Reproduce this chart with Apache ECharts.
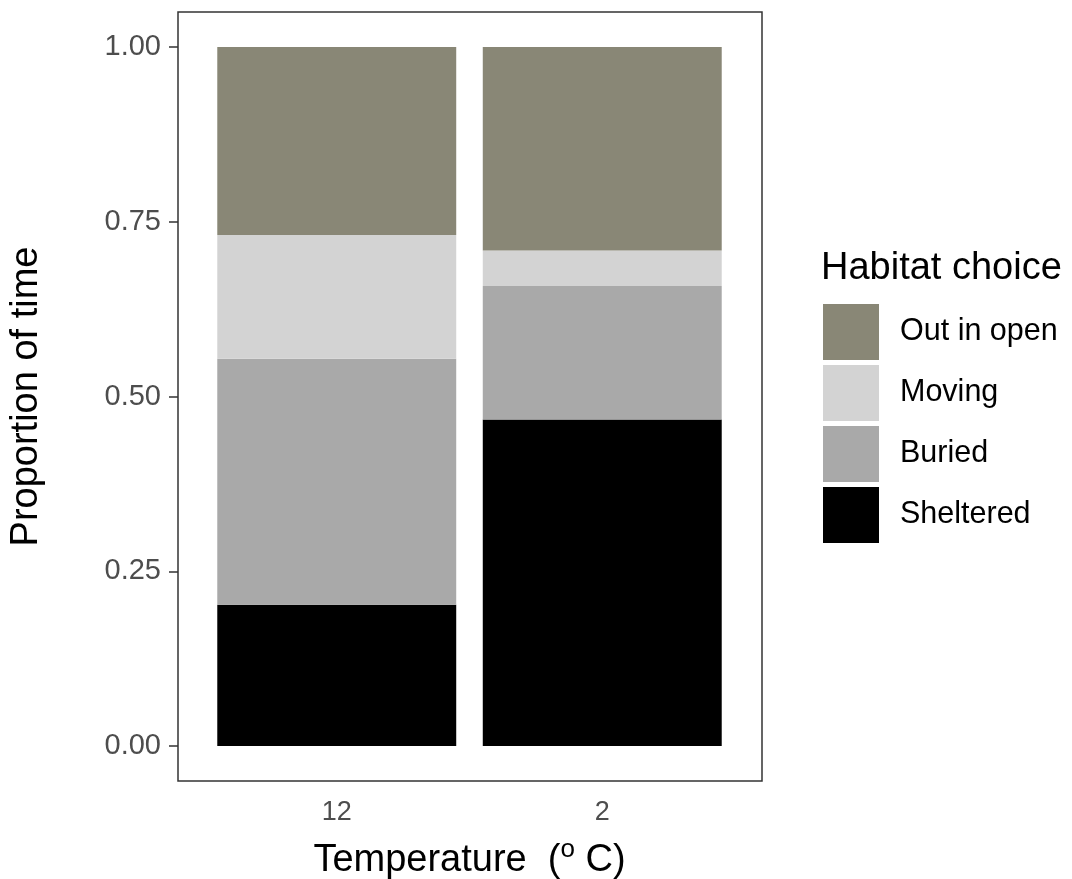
<!DOCTYPE html>
<html>
<head>
<meta charset="utf-8">
<script src="https://cdn.jsdelivr.net/npm/echarts@6/dist/echarts.min.js"></script>
<style>
html,body{margin:0;padding:0;background:#fff;}
#chart{width:1072px;height:879px;}
</style>
</head>
<body>
<div id="chart"></div>
<script>
// Data
const categories = ['12', '2'];
const sheltered = [0.202, 0.467];
const buried = [0.352, 0.191];
const moving = [0.177, 0.051];
const outInOpen = [0.269, 0.291];
const yTicks = [0, 0.25, 0.5, 0.75, 1];
const legendOrder = ['Out in open', 'Moving', 'Buried', 'Sheltered'];

const FONT = '"Liberation Sans", Arial, sans-serif';
const chart = echarts.init(document.getElementById('chart'), null, {renderer: 'canvas'});

function barSeries(name, data, color) {
  return {
    name: name, type: 'bar', stack: 'total', data: data,
    xAxisIndex: 1, yAxisIndex: 1,
    barWidth: '90%',
    itemStyle: {color: color},
    emphasis: {disabled: true}
  };
}

const option = {
  backgroundColor: '#ffffff',
  animation: false,
  title: {
    text: 'Habitat choice', left: 816, top: 245,
    textStyle: {fontFamily: FONT, fontSize: 38, fontWeight: 'normal', color: '#000'}
  },
  legend: {
    data: legendOrder, orient: 'vertical', left: 818, top: 299,
    itemWidth: 56, itemHeight: 56, itemGap: 5, icon: 'rect',
    textStyle: {fontFamily: FONT, fontSize: 30.5, color: '#000', padding: [0, 0, 0, 16]},
    selectedMode: false
  },
  grid: [
    {left: 178, top: 12, width: 584, height: 769, show: true, borderColor: '#333', borderWidth: 1.5,
     backgroundColor: 'transparent', containLabel: false, outerBoundsMode: 'none'},
    {left: 204, top: 12, width: 531, height: 769, containLabel: false, outerBoundsMode: 'none'}
  ],
  xAxis: [
    {type: 'category', gridIndex: 0, data: categories, show: false},
    {type: 'category', gridIndex: 1, data: categories,
     axisLine: {show: false}, axisTick: {show: false},
     axisLabel: {fontFamily: FONT, fontSize: 27, color: '#4d4d4d', margin: 18},
     name: '{a|Temperature  (}{s|o}{a| C)}', nameLocation: 'middle', nameGap: 56,
     nameTextStyle: {rich: {
       a: {fontFamily: FONT, fontSize: 38, color: '#000'},
       s: {fontFamily: FONT, fontSize: 26, color: '#000', padding: [0, 0, 22, 0]}
     }}}
  ],
  yAxis: [
    {type: 'value', gridIndex: 0, min: -0.05, max: 1.05,
     splitLine: {show: false}, axisLine: {show: false},
     axisTick: {show: true, length: 9, lineStyle: {color: '#333', width: 1.5}, customValues: yTicks},
     axisLabel: {fontFamily: FONT, fontSize: 29, color: '#4d4d4d', margin: 17, customValues: yTicks,
                 formatter: v => Number(v).toFixed(2)},
     name: 'Proportion of time', nameLocation: 'middle', nameGap: 132, nameRotate: 90,
     nameTextStyle: {fontFamily: FONT, fontSize: 38, color: '#000'}},
    {type: 'value', gridIndex: 1, min: -0.05, max: 1.05, show: false, splitLine: {show: false}}
  ],
  series: [
    barSeries('Sheltered', sheltered, '#000000'),
    barSeries('Buried', buried, '#a9a9a9'),
    barSeries('Moving', moving, '#d3d3d3'),
    barSeries('Out in open', outInOpen, '#898776')
  ]
};
chart.setOption(option);
</script>
</body>
</html>
